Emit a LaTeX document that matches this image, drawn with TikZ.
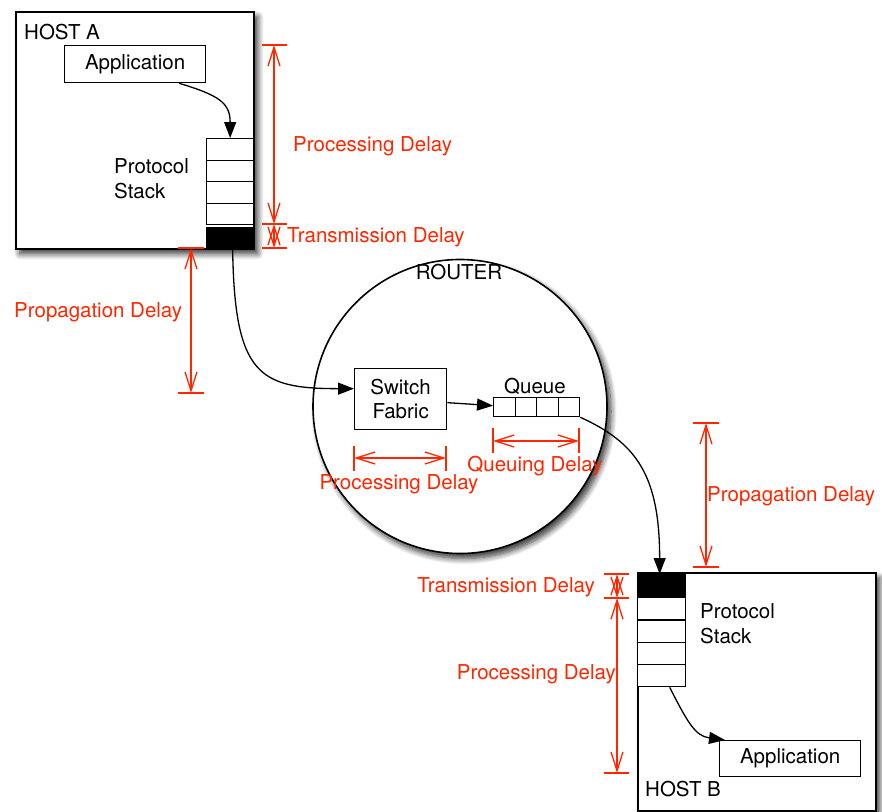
\documentclass[tikz,border=0pt]{standalone}
\usepackage{fontspec}
\setmainfont{TeX Gyre Heros}
\usetikzlibrary{arrows.meta,shadows.blur}
\definecolor{dimred}{RGB}{255,38,0}
\begin{document}
\begin{tikzpicture}[x=1pt,y=-1pt,
  font=\fontsize{20.5}{24.5}\selectfont,
  softshadow/.style={blur shadow={shadow xshift=4pt, shadow yshift=-5pt,
      shadow blur radius=6pt, shadow blur steps=8, shadow opacity=80}},
  hostbox/.style={draw, line width=1.6pt, fill=white, anchor=north west,
      inner sep=0, softshadow},
  plainbox/.style={draw, line width=1.3pt, fill=white, inner sep=0},
  cellbox/.style={draw, line width=1.3pt, fill=white, anchor=north west,
      inner sep=0, minimum width=47pt, minimum height=21.5pt},
  txt/.style={inner sep=0, yshift=-1.5pt},
  conn/.style={draw, line width=1.3pt, -{Triangle[length=16pt,width=12pt]}},
  dim/.style={draw=dimred, line width=1.3pt,
      {Straight Barb[length=19pt,width=12pt]}-{Straight Barb[length=19pt,width=12pt]}},
  dimtick/.style={draw=dimred, line width=1.3pt},
  dimlabel/.style={text=dimred, inner sep=0, yshift=-1.5pt}
]
\useasboundingbox (0,0) rectangle (882,811);

% ---------- Host A ----------
\node[hostbox, minimum width=238pt, minimum height=237pt] (hostA) at (15,11) {};
\node[txt, anchor=west] (hostAlabel) at (24,31) {HOST A};
\node[plainbox, anchor=north west, minimum width=141pt, minimum height=37pt] (appA) at (64,45) {Application};
\foreach \i/\y in {1/138,2/159.5,3/181,4/202.5}
  \node[cellbox] (a\i) at (206,\y) {};
\node[cellbox, fill=black, minimum height=22pt] (aB) at (206,226.5) {};
\node[txt, anchor=west, align=left] (stackA) at (114,177) {Protocol\\Stack};

% ---------- Router ----------
\node[draw, circle, line width=1.6pt, fill=white, minimum size=294pt, inner sep=0, softshadow] (router) at (460,406.5) {};
\node[txt] (routerlabel) at (459,271) {ROUTER};
\node[plainbox, anchor=north west, minimum width=92pt, minimum height=61pt, align=center] (sf) at (354,368) {Switch\\Fabric};
\foreach \i/\x in {1/493,2/514.5,3/536,4/557.5}
  \node[cellbox, minimum width=21.5pt, minimum height=19pt] (q\i) at (\x,397) {};
\node[txt] (qlabel) at (535,385) {Queue};

% ---------- Host B ----------
\node[hostbox, minimum width=238pt, minimum height=238pt] (hostB) at (637,572) {};
\node[cellbox, fill=black, minimum width=48pt, minimum height=23pt] (bB) at (637,574) {};
\foreach \i/\y in {1/597,2/619.25,3/641.5,4/663.75}
  \node[cellbox, minimum width=48pt, minimum height=22.25pt] (b\i) at (637,\y) {};
\node[txt, anchor=west, align=left] (stackB) at (700,622) {Protocol\\Stack};
\node[plainbox, anchor=north west, minimum width=141pt, minimum height=36pt] (appB) at (719,740) {Application};
\node[txt, anchor=west] (hostBlabel) at (645,788) {HOST B};

% ---------- Packet path ----------
\draw[conn] ([xshift=44pt]appA.south) .. controls +(40,12) and +(0,-35) .. (a1.north);
\draw[conn] ([xshift=2.5pt]aB.south) .. controls +(2,125) and +(-95,0) .. ([yshift=10.5pt]sf.west);
\draw[conn] ([yshift=-3.5pt]sf.east) -- ([yshift=1.5pt]q1.west);
\draw[conn] (q4.south east) .. controls +(55,25) and +(0,-100) .. ([xshift=-2pt]bB.north);
\draw[conn] ([xshift=8pt]b4.south) .. controls +(18,35) and +(-30,-4) .. ([xshift=6pt]appB.north west);

% ---------- Delay dimensions: Host A ----------
\coordinate (pA0) at (274,45);
\coordinate (pA1) at (274,224);
\coordinate (pA2) at (274,248);
\foreach \c in {pA0,pA1,pA2}
  \draw[dimtick] ([xshift=-12pt]\c) -- ([xshift=13pt]\c);
\draw[dim] (pA0) -- (pA1);
\draw[dim] (pA1) -- (pA2);
\node[dimlabel, anchor=west] (pAlabel) at (293,145) {Processing Delay};
\node[dimlabel, anchor=west] (tAlabel) at (287,236) {Transmission Delay};

\coordinate (gA0) at (191,248);
\coordinate (gA1) at (191,393);
\foreach \c in {gA0,gA1}
  \draw[dimtick] ([xshift=-13pt]\c) -- ([xshift=13pt]\c);
\draw[dim] (gA0) -- (gA1);
\node[dimlabel, anchor=west] (gAlabel) at (14,311) {Propagation Delay};

% ---------- Delay dimensions: Router ----------
\coordinate (sd0) at (354,458);
\coordinate (sd1) at (446,458);
\foreach \c in {sd0,sd1}
  \draw[dimtick] ([yshift=12pt]\c) -- ([yshift=-13pt]\c);
\draw[dim] (sd0) -- (sd1);
\node[dimlabel] (sdlabel) at (399,483) {Processing Delay};

\coordinate (qd0) at (493,441);
\coordinate (qd1) at (579,441);
\foreach \c in {qd0,qd1}
  \draw[dimtick] ([yshift=13pt]\c) -- ([yshift=-12pt]\c);
\draw[dim] (qd0) -- (qd1);
\node[dimlabel] (qdlabel) at (535,465) {Queuing Delay};

% ---------- Delay dimensions: Host B ----------
\coordinate (gB0) at (706,423);
\coordinate (gB1) at (706,567);
\foreach \c in {gB0,gB1}
  \draw[dimtick] ([xshift=-13pt]\c) -- ([xshift=13pt]\c);
\draw[dim] (gB0) -- (gB1);
\node[dimlabel, anchor=west] (gBlabel) at (707,495) {Propagation Delay};

\coordinate (tB0) at (617,574);
\coordinate (tB1) at (617,598);
\coordinate (tB2) at (617,773);
\foreach \c in {tB0,tB1,tB2}
  \draw[dimtick] ([xshift=-13pt]\c) -- ([xshift=12pt]\c);
\draw[dim] (tB0) -- (tB1);
\draw[dim] (tB1) -- (tB2);
\node[dimlabel, anchor=east] (tBlabel) at (595,586) {Transmission Delay};
\node[dimlabel, anchor=east] (pBlabel) at (616,673) {Processing Delay};
\end{tikzpicture}
\end{document}
